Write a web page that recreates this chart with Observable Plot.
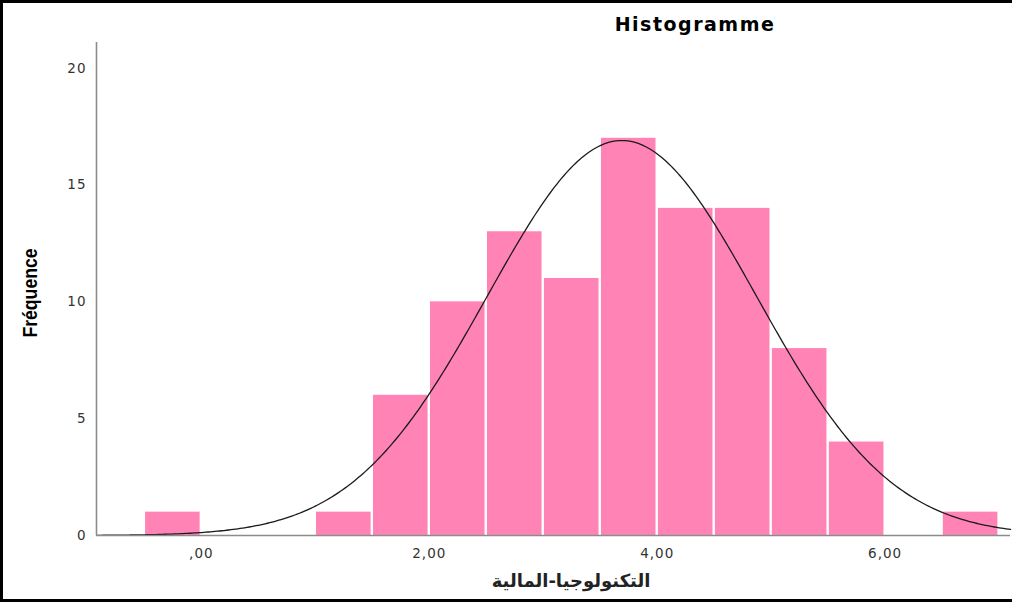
<!DOCTYPE html>
<html>
<head>
<meta charset="utf-8">
<script src="https://cdn.jsdelivr.net/npm/d3@7"></script>
<script src="https://cdn.jsdelivr.net/npm/@observablehq/plot@0.6"></script>
<style>
  html, body { margin: 0; padding: 0; background: #fff; }
  #wrap { position: relative; width: 1012px; height: 602px; overflow: hidden; background: #fff; }
  #frame { position: absolute; left: 0; top: 0; width: 1012px; height: 602px; box-sizing: border-box;
           border-top: 3px solid #000; border-left: 3px solid #000; border-bottom: 3px solid #000; pointer-events: none; }
  #chart { position: absolute; left: 0; top: 0; }
  #title { position: absolute; top: 13px; left: 695px; transform: translateX(-50%); white-space: nowrap;
           font: bold 19px "DejaVu Sans", sans-serif; letter-spacing: 1.5px; color: #000; }
  #ylab { position: absolute; left: 30px; top: 293px; transform: translate(-50%, -50%) rotate(-90deg) scaleX(0.84); white-space: nowrap;
          font: bold 21px "Liberation Sans Narrow", "Arial Narrow", "Liberation Sans", sans-serif; color: #000; }
  #xlab { position: absolute; left: 571px; top: 570px; transform: translateX(-50%); white-space: nowrap;
          font: bold 18px "DejaVu Sans", sans-serif; color: #222; direction: rtl; }
  #chart text { letter-spacing: 1px; }
</style>
</head>
<body>
<div id="wrap">
  <div id="chart"></div>
  <div id="title">Histogramme</div>
  <div id="ylab">Fréquence</div>
  <div id="xlab">التكنولوجيا-المالية</div>
  <div id="frame"></div>
</div>
<script>
// Bin edges and frequencies
const binStart = [-0.5, 1.0, 1.5, 2.0, 2.5, 3.0, 3.5, 4.0, 4.5, 5.0, 5.5, 6.5];
const binEnd   = [ 0.0, 1.5, 2.0, 2.5, 3.0, 3.5, 4.0, 4.5, 5.0, 5.5, 6.0, 7.0];
const counts   = [   1,   1,   6,  10,  13,  11,  17,  14,  14,   8,   4,   1];

// Normal-curve fit parameters
const fitMean = 3.69;
const fitSD = 1.18;
const fitN = 100;
const binWidth = 0.5;

// Axis ticks and labels
const xTicks = [0, 2, 4, 6];
const xTickLabels = [",00", "2,00", "4,00", "6,00"];
const yTicks = [0, 5, 10, 15, 20];

const xDomain = [-0.92, 7.1];
const yDomain = [0, 21.1];

const bars = binStart.map((s, i) => ({x1: s, x2: binEnd[i], y: counts[i]}));

const curve = d3.range(xDomain[0], xDomain[1] + 0.001, 0.02).map(x => ({
  x,
  y: fitN * binWidth / (fitSD * Math.sqrt(2 * Math.PI)) * Math.exp(-0.5 * ((x - fitMean) / fitSD) ** 2)
}));

const chart = Plot.plot({
  width: 1012,
  height: 602,
  marginLeft: 96,
  marginRight: 2,
  marginTop: 42,
  marginBottom: 67,
  x: {domain: xDomain, axis: null},
  y: {domain: yDomain, axis: null},
  style: {fontFamily: "DejaVu Sans, sans-serif", fontSize: "13.5px", color: "#333", background: "transparent"},
  marks: [
    Plot.rectY(bars, {x1: "x1", x2: "x2", y: "y", fill: "#ff84b5", insetLeft: 1.2, insetRight: 1.2}),
    Plot.line(curve, {x: "x", y: "y", stroke: "#1a1a1a", strokeWidth: 1.3}),
    Plot.ruleY([0], {stroke: "#8c8c8c", strokeWidth: 1.6}),
    Plot.ruleX([xDomain[0]], {stroke: "#8c8c8c", strokeWidth: 1.6}),
    Plot.axisX({ticks: xTicks, tickSize: 0, tickPadding: 13, label: null, tickFormat: d => xTickLabels[xTicks.indexOf(d)], fill: "#333"}),
    Plot.axisY({ticks: yTicks, tickSize: 0, tickPadding: 10, label: null, tickFormat: d => String(d), fill: "#333"})
  ]
});
document.getElementById("chart").appendChild(chart);
</script>
</body>
</html>
